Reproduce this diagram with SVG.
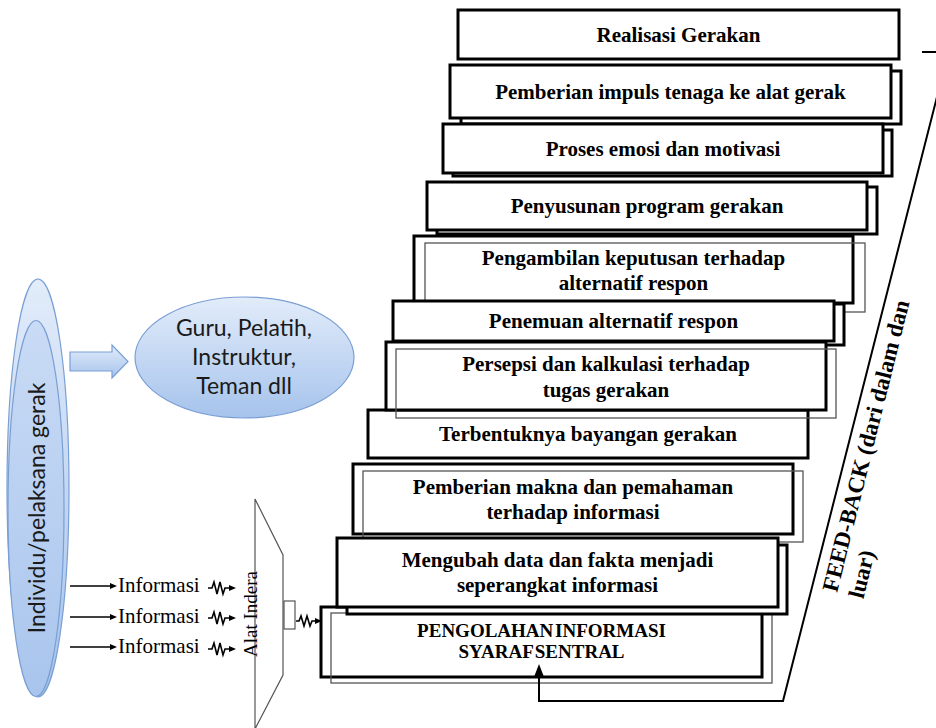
<svg xmlns="http://www.w3.org/2000/svg" width="936" height="728" viewBox="0 0 936 728">
<defs>
<linearGradient id="blue" x1="0" y1="0" x2="0" y2="1">
<stop offset="0" stop-color="#e2ecfa"/>
<stop offset="1" stop-color="#a6c3ec"/>
</linearGradient>
<linearGradient id="blue2" x1="0" y1="0" x2="0" y2="1">
<stop offset="0" stop-color="#c9dbf5"/>
<stop offset="1" stop-color="#a9c5ed"/>
</linearGradient>
<marker id="ah" markerWidth="8" markerHeight="8" refX="0" refY="4" orient="auto" markerUnits="userSpaceOnUse">
<path d="M0,1 L7,4 L0,7 z" fill="#000"/>
</marker>
</defs>
<style>
.box{fill:#fff;stroke:#000;stroke-width:3}
.thin{fill:none;stroke:#555;stroke-width:1.3}
.t{font-family:"Liberation Serif","Times New Roman",serif;font-weight:bold;font-size:21px;text-anchor:middle;fill:#000}
.ts{font-size:19px;word-spacing:-3px}
.cal{font-family:Lato,"Liberation Sans",sans-serif;font-size:23px;fill:#1a1a1a;text-anchor:middle}
.blue{fill:url(#blue);stroke:#7a9fd4;stroke-width:1.2}
.info{font-family:"Liberation Serif","Times New Roman",serif;font-size:21px;fill:#000}
.wire{fill:none;stroke:#000;stroke-width:1.6}
.fb{fill:none;stroke:#000;stroke-width:2}
</style>

<g id="individu">
<ellipse class="blue" cx="38" cy="488" rx="31" ry="209"/>
<ellipse cx="36" cy="508.5" rx="28" ry="188" fill="url(#blue2)" stroke="#7a9fd4" stroke-width="1.2"/>
<text class="cal" transform="translate(45,508) rotate(-90)">Individu/pelaksana gerak</text>
</g>

<g id="arrow-guru">
<polygon class="blue" points="70,352 112,352 112,345 128,361.5 112,378 112,371 70,371"/>
</g>

<g id="guru">
<ellipse class="blue" cx="244.5" cy="357.5" rx="109.5" ry="60.5"/>
<text class="cal" x="244" y="336">Guru, Pelatih,</text>
<text class="cal" x="244" y="365">Instruktur,</text>
<text class="cal" x="244" y="394">Teman dll</text>
</g>

<g id="informasi">
<line class="wire" x1="70" y1="586" x2="110" y2="586" marker-end="url(#ah)"/>
<line class="wire" x1="70" y1="617" x2="110" y2="617" marker-end="url(#ah)"/>
<line class="wire" x1="70" y1="647" x2="110" y2="647" marker-end="url(#ah)"/>
<text class="info" x="118" y="592">Informasi</text>
<text class="info" x="118" y="623">Informasi</text>
<text class="info" x="118" y="653">Informasi</text>
<path class="wire" d="M208,588 h4 l2,-6 l3,12 l3,-12 l3,12 l2,-6 h4" marker-end="url(#ah)"/>
<path class="wire" d="M208,618 h4 l2,-6 l3,12 l3,-12 l3,12 l2,-6 h4" marker-end="url(#ah)"/>
<path class="wire" d="M208,649 h4 l2,-6 l3,12 l3,-12 l3,12 l2,-6 h4" marker-end="url(#ah)"/>
</g>

<g id="alat-indera">
<polygon points="255,499 283,555 283,675 255,729" fill="#fff" stroke="#555" stroke-width="1.2"/>
<rect x="284" y="601" width="11" height="28" fill="#fff" stroke="#555" stroke-width="1.2"/>
<text class="info" style="font-size:19px" text-anchor="middle" transform="translate(257,614) rotate(-90)">Alat Indera</text>
</g>

<g id="b1">
<rect class="box" x="458" y="10" width="441" height="49"/>
<text class="t" x="678.5" y="42">Realisasi Gerakan</text>
</g>
<g id="b2">
<rect class="box" x="461" y="71" width="440" height="53"/>
<rect class="box" x="450" y="65" width="441" height="53"/>
<text class="t" x="670.5" y="99">Pemberian impuls tenaga ke alat gerak</text>
</g>
<g id="b3">
<rect class="box" x="453" y="130" width="439" height="46"/>
<rect class="box" x="443" y="124" width="440" height="49"/>
<text class="t" x="663" y="156">Proses emosi dan motivasi</text>
</g>
<g id="b4">
<rect class="box" x="437" y="187" width="440" height="47"/>
<rect class="box" x="427" y="182" width="440" height="48"/>
<text class="t" x="647" y="213">Penyusunan program gerakan</text>
</g>
<g id="b5">
<rect class="box" x="414" y="236" width="439" height="67"/>
<rect class="thin" x="425" y="243" width="440" height="69"/>
<text class="t" x="633.5" y="265">Pengambilan keputusan terhadap</text>
<text class="t" x="633.5" y="290">alternatif respon</text>
</g>
<g id="b6">
<rect class="box" x="403" y="304" width="441" height="41"/>
<rect class="box" x="393" y="301" width="441" height="40"/>
<text class="t" x="613.5" y="328">Penemuan alternatif respon</text>
</g>
<g id="b8">
<rect class="box" x="368" y="410" width="440" height="48"/>
<text class="t" x="588" y="441">Terbentuknya bayangan gerakan</text>
</g>
<g id="b7">
<rect class="box" x="386" y="342" width="440" height="68"/>
<rect class="thin" x="396" y="349" width="440" height="69"/>
<text class="t" x="606" y="371">Persepsi dan kalkulasi terhadap</text>
<text class="t" x="606" y="397">tugas gerakan</text>
</g>
<g id="b9">
<rect class="box" x="353" y="464" width="440" height="70"/>
<rect class="thin" x="363" y="471" width="440" height="71"/>
<text class="t" x="573" y="494">Pemberian makna dan pemahaman</text>
<text class="t" x="573" y="519">terhadap informasi</text>
</g>
<g id="b11">
<rect class="box" x="321" y="607" width="441" height="70"/>
<rect class="thin" x="331" y="613" width="441" height="70"/>
<text class="t ts" x="541.5" y="637">PENGOLAHAN INFORMASI</text>
<text class="t ts" x="541.5" y="658">SYARAF SENTRAL</text>
</g>
<g id="b10">
<rect class="box" x="347" y="545" width="440" height="69"/>
<rect class="box" x="337" y="538" width="441" height="69"/>
<text class="t" x="557.5" y="567">Mengubah data dan fakta menjadi</text>
<text class="t" x="557.5" y="592">seperangkat informasi</text>
</g>

<g id="connectors">
<path class="wire" d="M296,621 h3 l2,-5 l3,10 l3,-10 l3,10 l2,-5 h3" marker-end="url(#ah)"/>
<polyline class="fb" points="539,676 539,701 783,701 940,85"/>
<polygon points="539,664 534,677 544,677" fill="#000"/>
<line class="fb" x1="922" y1="52" x2="936" y2="52"/>
</g>

<g id="feedback-label">
<text class="t" style="text-anchor:start;font-size:23px" transform="translate(837,593) rotate(-76)">FEED-BACK (dari dalam dan<tspan x="0" dy="27">luar)</tspan></text>
</g>
</svg>
